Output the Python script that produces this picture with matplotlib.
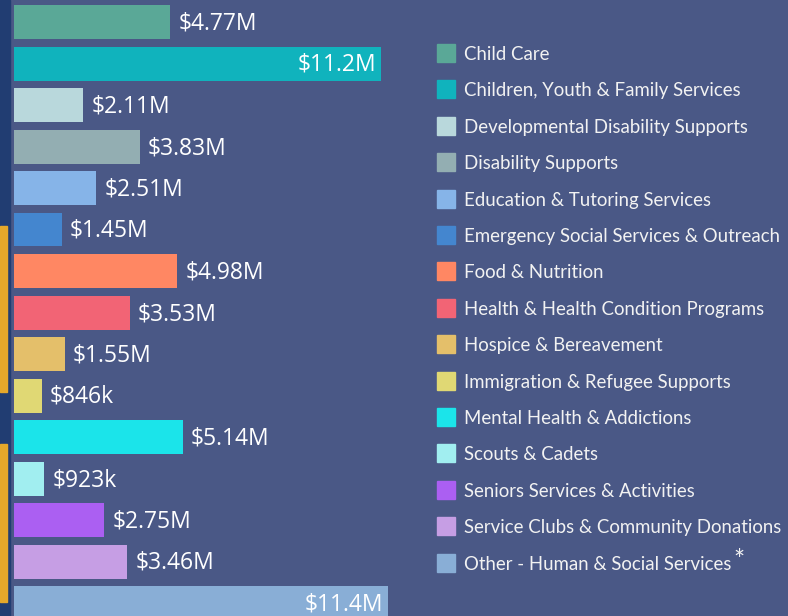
import matplotlib
matplotlib.use("Agg")
import matplotlib.pyplot as plt
from matplotlib.patches import Rectangle

# Funding by category (millions of dollars)
categories = [
    "Child Care",
    "Children, Youth & Family Services",
    "Developmental Disability Supports",
    "Disability Supports",
    "Education & Tutoring Services",
    "Emergency Social Services & Outreach",
    "Food & Nutrition",
    "Health & Health Condition Programs",
    "Hospice & Bereavement",
    "Immigration & Refugee Supports",
    "Mental Health & Addictions",
    "Scouts & Cadets",
    "Seniors Services & Activities",
    "Service Clubs & Community Donations",
    "Other - Human & Social Services",
]
values = [4.77, 11.2, 2.11, 3.83, 2.51, 1.45, 4.98, 3.53, 1.55, 0.846, 5.14, 0.923, 2.75, 3.46, 11.4]
colors = [
    "#5aa897", "#10b3bd", "#b9d8dc", "#93aeb2", "#86b4e8",
    "#4486cf", "#ff8763", "#f26475", "#e4bf6a", "#e0d874",
    "#1be4ea", "#a1eef0", "#ab5ff2", "#c69ee4", "#89aed6",
]

BG = "#4a5886"
W, H = 788, 616


def fmt(v):
    if v >= 1:
        return f"${v:.3g}M"
    return f"${v * 1000:.0f}k"


fig = plt.figure(figsize=(W / 100, H / 100), dpi=100, facecolor=BG)

# left accent strip
fig.patches.append(Rectangle((0, 0), 10 / W, 1, transform=fig.transFigure, color="#213d72", zorder=0))
for y0, y1 in [(226, 392), (444, 602)]:
    fig.patches.append(Rectangle((0, 1 - y1 / H), 7 / W, (y1 - y0) / H,
                                 transform=fig.transFigure, color="#e5a82a", zorder=1))

# bars
ax_left, ax_w = 14, 420
px_per_m = 32.8
step, first = 41.5, 22
ax = fig.add_axes([ax_left / W, 0, ax_w / W, 1])
ax.set_facecolor("none")
ax.set_xlim(0, ax_w / px_per_m)
ax.set_ylim((H - first) / step, -first / step)
ax.set_axis_off()

ypos = list(range(len(values)))
ax.barh(ypos, values, height=34 / step, color=colors)

for y, v in zip(ypos, values):
    ty = y + 1.5 / step
    if v > 10:
        ax.text(v - 5 / px_per_m, ty, fmt(v), ha="right", va="center",
                color="white", fontsize=16.5, family="Open Sans")
    else:
        ax.text(v + 8 / px_per_m, ty, fmt(v), ha="left", va="center",
                color="white", fontsize=16.5, family="Open Sans")

# legend
leg_first, leg_step = 53, 36.4
for i, (name, c) in enumerate(zip(categories, colors)):
    yc = leg_first + i * leg_step
    fig.patches.append(Rectangle((437 / W, 1 - (yc + 9) / H), 18 / W, 18 / H,
                                 transform=fig.transFigure, color=c, zorder=2))
    t = fig.text(464 / W, 1 - yc / H, name, ha="left", va="center_baseline",
                 color="#f2f2f2", fontsize=13.45, family="Lato")
    if i == len(categories) - 1:
        fig.canvas.draw()
        bb = t.get_window_extent()
        fig.text((bb.x1 + 2) / W, 1 - (yc - 1) / H, "*", ha="left", va="center",
                 color="#f2f2f2", fontsize=19, family="Lato")

fig.savefig("out.png", dpi=100, facecolor=BG)
